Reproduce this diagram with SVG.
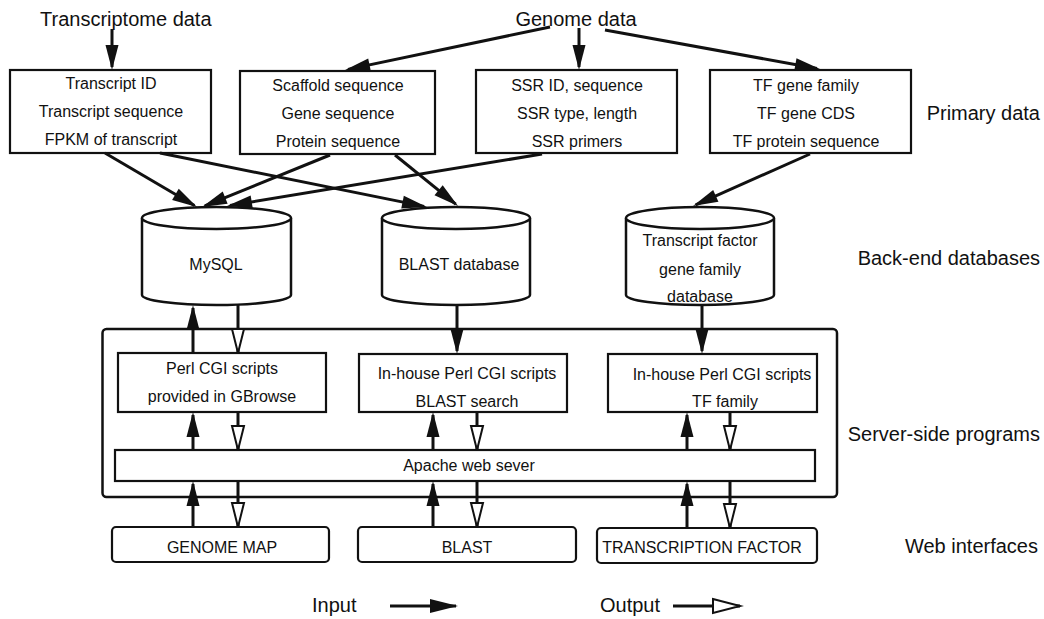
<svg xmlns="http://www.w3.org/2000/svg" width="1044" height="619" viewBox="0 0 1044 619">
<style>
text{font-family:"Liberation Sans",Arial,sans-serif;fill:#111}
.t16{font-size:16px;text-anchor:middle}
.t20{font-size:20px}
.lbl{font-size:20px;text-anchor:end}
.box{fill:#fff;stroke:#111;stroke-width:2.2}
.cyl{fill:#fff;stroke:#111;stroke-width:2.5}
.c{fill:none;stroke:#111;stroke-width:3}
.f{marker-end:url(#fa)}
.o{marker-end:url(#oa)}
</style>
<defs>
<marker id="fa" markerUnits="userSpaceOnUse" markerWidth="27" markerHeight="14" refX="22" refY="6.5" orient="auto" overflow="visible"><path d="M0,0 L25,6.5 L0,13 z" fill="#111"/></marker>
<marker id="oa" markerUnits="userSpaceOnUse" markerWidth="27" markerHeight="14" refX="24" refY="6" orient="auto" overflow="visible"><path d="M0,0 L24,6 L0,12 z" fill="#fff" stroke="#111" stroke-width="2"/></marker>
<marker id="fl" markerUnits="userSpaceOnUse" markerWidth="30" markerHeight="16" refX="26" refY="7" orient="auto" overflow="visible"><path d="M0,0 L28,7 L0,14 z" fill="#111"/></marker>
<marker id="ol" markerUnits="userSpaceOnUse" markerWidth="30" markerHeight="16" refX="27" refY="7" orient="auto" overflow="visible"><path d="M0,0 L27,7 L0,14 z" fill="#fff" stroke="#111" stroke-width="2"/></marker>
</defs>
<rect width="1044" height="619" fill="#fff"/>

<g id="src-transcriptome"><text class="t20" x="40" y="26">Transcriptome data</text></g>
<g id="src-genome"><text class="t20" x="576" y="26" text-anchor="middle">Genome data</text></g>

<g id="labels">
<text class="lbl" x="1040" y="120">Primary data</text>
<text class="lbl" x="1040" y="265">Back-end databases</text>
<text class="lbl" x="1040" y="441">Server-side programs</text>
<text class="lbl" x="1038" y="553">Web interfaces</text>
</g>

<g id="server-side">
<rect x="102.5" y="329" width="734.5" height="168" rx="4" fill="none" stroke="#111" stroke-width="2.5"/>
</g>

<g id="box-transcript">
<rect class="box" x="10" y="70" width="201" height="83"/>
<text class="t16" x="111" y="89">Transcript ID</text>
<text class="t16" x="111" y="117">Transcript sequence</text>
<text class="t16" x="111" y="145">FPKM of transcript</text>
</g>
<g id="box-scaffold">
<rect class="box" x="240" y="71" width="195" height="83"/>
<text class="t16" x="338" y="91">Scaffold sequence</text>
<text class="t16" x="338" y="119">Gene sequence</text>
<text class="t16" x="338" y="147">Protein sequence</text>
</g>
<g id="box-ssr">
<rect class="box" x="476" y="70" width="201" height="83"/>
<text class="t16" x="577" y="91">SSR ID, sequence</text>
<text class="t16" x="577" y="119">SSR type, length</text>
<text class="t16" x="577" y="147">SSR primers</text>
</g>
<g id="box-tf">
<rect class="box" x="710" y="70" width="201" height="83"/>
<text class="t16" x="806" y="91">TF gene family</text>
<text class="t16" x="806" y="119">TF gene CDS</text>
<text class="t16" x="806" y="147">TF protein sequence</text>
</g>

<g id="db-mysql">
<path class="cyl" d="M142,218 L142,295 A74.5,10 0 0 0 291,295 L291,218"/>
<ellipse class="cyl" cx="216.5" cy="218" rx="74.5" ry="11"/>
<text class="t16" x="216" y="270">MySQL</text>
</g>
<g id="db-blast">
<path class="cyl" d="M382,218 L382,295 A74,10 0 0 0 530,295 L530,218"/>
<ellipse class="cyl" cx="456" cy="218" rx="74" ry="11"/>
<text class="t16" x="459" y="270">BLAST database</text>
</g>
<g id="db-tf">
<path class="cyl" d="M626,218 L626,295 A74,10 0 0 0 774,295 L774,218"/>
<ellipse class="cyl" cx="700" cy="218" rx="74" ry="11"/>
<text class="t16" x="700" y="246">Transcript factor</text>
<text class="t16" x="700" y="275">gene family</text>
<text class="t16" x="700" y="302">database</text>
</g>

<g id="cgi-gbrowse">
<rect class="box" x="118" y="353" width="208" height="59"/>
<text class="t16" x="222" y="374">Perl CGI scripts</text>
<text class="t16" x="222" y="402">provided in GBrowse</text>
</g>
<g id="cgi-blast">
<rect class="box" x="359" y="354" width="208" height="58"/>
<text class="t16" x="467" y="379">In-house Perl CGI scripts</text>
<text class="t16" x="467" y="407">BLAST search</text>
</g>
<g id="cgi-tf">
<rect class="box" x="608" y="354" width="209" height="58"/>
<text class="t16" x="722" y="380">In-house Perl CGI scripts</text>
<text class="t16" x="725" y="407">TF family</text>
</g>

<g id="apache">
<rect class="box" x="115" y="450" width="700" height="31"/>
<text class="t16" x="469" y="471">Apache web sever</text>
</g>

<g id="web-genome-map">
<rect class="box" x="112" y="527" width="217" height="35" rx="4"/>
<text class="t16" x="222" y="553">GENOME MAP</text>
</g>
<g id="web-blast">
<rect class="box" x="358" y="527" width="218" height="35" rx="4"/>
<text class="t16" x="467" y="553">BLAST</text>
</g>
<g id="web-tf">
<rect class="box" x="597" y="528" width="220" height="35" rx="4"/>
<text class="t16" x="702" y="553">TRANSCRIPTION FACTOR</text>
</g>

<g id="connectors">
<path class="c f" d="M112,29 L112,67"/>
<path class="c f" d="M550,27 L348,69.4"/>
<path class="c f" d="M579,28 L579,67"/>
<path class="c f" d="M605,30 L817,68.5"/>
<path class="c f" d="M105,153 L194.4,205.5"/>
<path class="c f" d="M160,153 L424.1,206.4"/>
<path class="c f" d="M330,155 L204.8,205.9"/>
<path class="c f" d="M395,155 L455.7,204.1"/>
<path class="c f" d="M542,154 L230,205.5"/>
<path class="c f" d="M810,154 L695.7,204.8"/>

<path class="c o" d="M238,305 L238,353"/>
<path class="c f" d="M193,353 L193,308"/>
<path class="c f" d="M457,305 L457,351"/>
<path class="c f" d="M702,305 L702,351"/>

<path class="c f" d="M193,450 L193,415"/>
<path class="c o" d="M238,412 L238,450"/>
<path class="c f" d="M433,450 L433,415"/>
<path class="c o" d="M477,412 L477,450"/>
<path class="c f" d="M687,450 L687,415"/>
<path class="c o" d="M730,412 L730,450"/>

<path class="c f" d="M193,527 L193,484"/>
<path class="c o" d="M238,481 L238,527"/>
<path class="c f" d="M433,527 L433,484"/>
<path class="c o" d="M477,481 L477,527"/>
<path class="c f" d="M687,528 L687,484"/>
<path class="c o" d="M730,481 L730,528"/>
</g>

<g id="legend">
<text class="t20" x="312" y="612">Input</text>
<path class="c" d="M390,606 L456,606" marker-end="url(#fl)"/>
<text class="t20" x="600" y="612">Output</text>
<path class="c" d="M673,606 L740,606" marker-end="url(#ol)"/>
</g>
</svg>
